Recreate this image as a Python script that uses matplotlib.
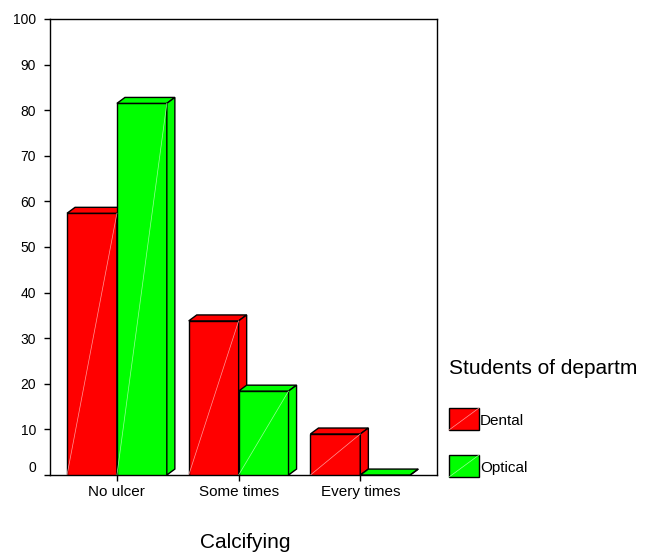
import matplotlib.pyplot as plt
from matplotlib.patches import Polygon, Rectangle

plt.rcParams['font.family'] = ['Liberation Sans', 'DejaVu Sans']

categories = ['No ulcer', 'Some times', 'Every times']
dental = [57.4, 33.8, 9.0]
optical = [81.5, 18.4, 0.0]
series = ['Dental', 'Optical']
colors = ['#ff0000', '#00ff00']
light = ['#ff9a9a', '#9aff9a']

W = 0.41      # bar width (category units)
DX = 0.066    # 3d depth offset in x
DY = 1.3      # 3d depth offset in y


def bar3d(ax, x0, v, c, lc):
    # front face
    ax.add_patch(Rectangle((x0, 0), W, v, facecolor=c, edgecolor='black', lw=1.0, zorder=3))
    ax.plot([x0, x0 + W], [0, v], color=lc, lw=0.5, zorder=3.5)
    # top face
    top = [(x0, v), (x0 + W, v), (x0 + W + DX, v + DY), (x0 + DX, v + DY)]
    ax.add_patch(Polygon(top, closed=True, facecolor=c, edgecolor='black', lw=1.0, zorder=3))
    # side face
    side = [(x0 + W, 0), (x0 + W + DX, DY), (x0 + W + DX, v + DY), (x0 + W, v)]
    ax.add_patch(Polygon(side, closed=True, facecolor=c, edgecolor='black', lw=1.0, zorder=3))


fig = plt.figure(figsize=(6.52, 5.53), dpi=100)
ax = fig.add_axes([50 / 652, (553 - 475) / 553, 387 / 652, (475 - 19) / 553])

for i in range(len(categories)):
    bar3d(ax, i - W, dental[i], colors[0], light[0])
    bar3d(ax, i, optical[i], colors[1], light[1])

ax.set_xlim(-0.55, 2.63)
ax.set_ylim(0, 100)
ax.set_yticks(range(0, 101, 10))
ax.set_xticks(range(len(categories)))
ax.set_xticklabels(categories, fontsize=11)
ax.tick_params(axis='y', labelsize=10, length=4, width=1, pad=6)
ax.tick_params(axis='x', length=4, width=1, pad=3)
ax.get_yticklabels()[0].set_va('bottom')
for s in ax.spines.values():
    s.set_color('black')
    s.set_linewidth(1.0)

fig.text(245 / 652, 1 - 542 / 553, 'Calcifying', fontsize=15, ha='center', va='center')

# legend
fig.text(449 / 652, 1 - 369 / 553, 'Students of departm', fontsize=15, ha='left', va='center')
leg_y = [408, 455]
for k, name in enumerate(series):
    y0 = leg_y[k]
    x0 = 449
    r = Rectangle((x0 / 652, 1 - (y0 + 22) / 553), 30 / 652, 22 / 553, transform=fig.transFigure,
                  facecolor=colors[k], edgecolor='black', lw=1.0)
    fig.patches.append(r)
    fig.lines.append(plt.Line2D([x0 / 652, (x0 + 30) / 652], [1 - (y0 + 22) / 553, 1 - y0 / 553],
                                transform=fig.transFigure, color=light[k], lw=0.5))
    fig.text((x0 + 31) / 652, 1 - (y0 + 13) / 553, name, fontsize=11, ha='left', va='center')

fig.savefig('out.png', dpi=100)
